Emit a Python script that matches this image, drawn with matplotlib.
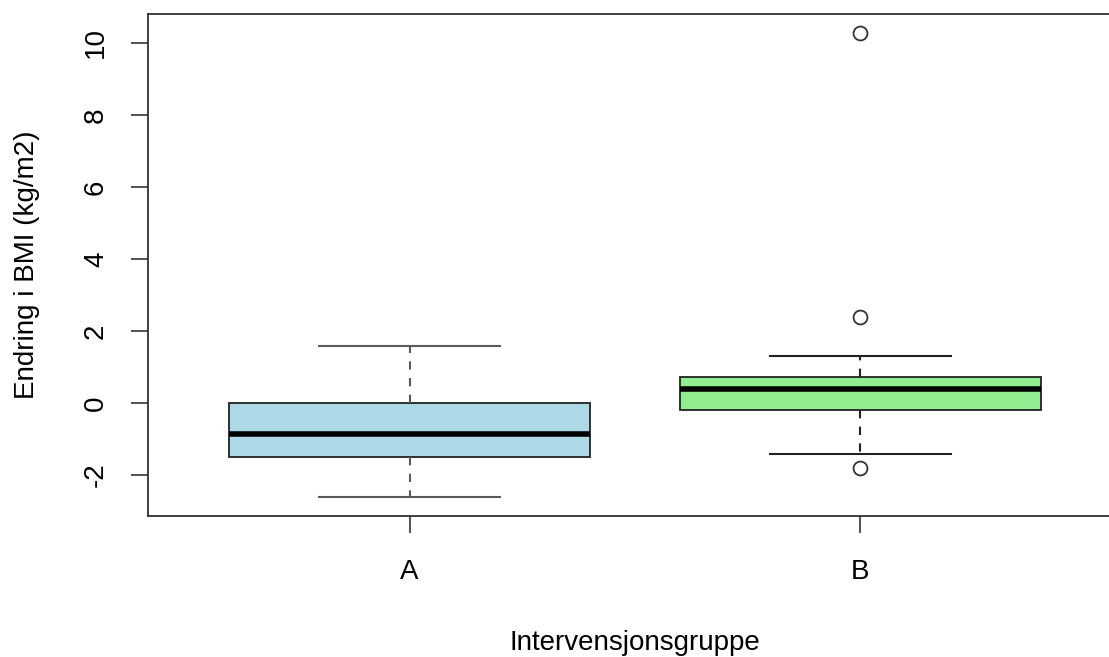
import matplotlib
matplotlib.use("Agg")
import matplotlib.pyplot as plt

plt.rcParams['font.family'] = ['Liberation Sans', 'DejaVu Sans']

groups = ["A", "B"]
q1 = [-1.50, -0.20]
med = [-0.86, 0.39]
q3 = [0.00, 0.73]
whislo = [-2.60, -1.41]
whishi = [1.59, 1.29]
fliers = [[], [10.27, 2.38, -1.81]]
fills = ["#ADD8E6", "#90EE90"]
whisk_colors = ["#5a5a5a", "#222222"]

stats = []
for i, g in enumerate(groups):
    stats.append(dict(label=g, q1=q1[i], med=med[i], q3=q3[i],
                      whislo=whislo[i], whishi=whishi[i], fliers=fliers[i]))

fig = plt.figure(figsize=(11.09, 6.57), dpi=100)
# the right edge of the plot frame falls just outside the picture, as in the original
ax = fig.add_axes([148/1109, 1 - 516/657, (1122-148)/1109, (516-14)/657])

bp = ax.bxp(stats, positions=[1, 2], widths=0.8, patch_artist=True,
            showfliers=True, manage_ticks=False)

for i, box in enumerate(bp['boxes']):
    box.set_facecolor(fills[i])
    box.set_edgecolor("#222222")
    box.set_linewidth(1.3)
for m in bp['medians']:
    m.set_color("black")
    m.set_linewidth(4)
for j, w in enumerate(bp['whiskers']):
    w.set_color(whisk_colors[j // 2])
    w.set_linestyle((0, (4, 4)))
    w.set_linewidth(1.5)
for j, c in enumerate(bp['caps']):
    c.set_color(whisk_colors[j // 2])
    c.set_linewidth(1.5)
    # R draws caps at half the box width
    x = c.get_xdata()
    mid = (x[0] + x[1]) / 2
    c.set_xdata([mid - 0.2, mid + 0.2])
for f in bp['fliers']:
    f.set_marker('o')
    f.set_markerfacecolor('none')
    f.set_markeredgecolor('#333333')
    f.set_markersize(10)
    f.set_markeredgewidth(1.3)

ax.set_xlim(0.42, 2.58)
ax.set_ylim(-3.14, 10.80)
ax.set_xticks([1, 2])
ax.set_xticklabels(groups)
ax.set_yticks([-2, 0, 2, 4, 6, 8, 10])
ax.set_yticklabels(["-2", "0", "2", "4", "6", "8", "10"], rotation=90, va='center')

ax.tick_params(axis='both', direction='out', length=12, width=1.2,
               color="#333333", labelsize=20, pad=17)
ax.tick_params(axis='x', pad=19)
ax.tick_params(axis='y', pad=16)
for s in ax.spines.values():
    s.set_color("#333333")
    s.set_linewidth(1.3)

ax.set_xlabel("Intervensjonsgruppe", fontsize=20, labelpad=32)
ax.set_ylabel("Endring i BMI (kg/m2)", fontsize=20, labelpad=31)

fig.savefig("out.png", dpi=100)
